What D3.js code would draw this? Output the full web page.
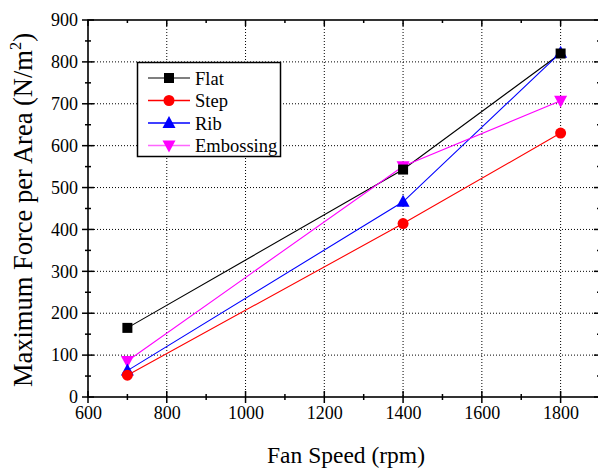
<!DOCTYPE html>
<html><head><meta charset="utf-8">
<script src="https://cdn.jsdelivr.net/npm/d3@7"></script>
<style>body{margin:0;background:#fff}svg{display:block}</style>
</head><body><svg id="c" width="598" height="474" font-family="Liberation Serif, Times New Roman, Times, serif"></svg>
<script>
const speeds = [700, 1400, 1800];
const seriesNames = ["Flat", "Step", "Rib", "Embossing"];
const flat = [165, 543, 820];
const step = [52, 414, 630];
const rib = [63, 466, 822];
const embossing = [86, 551, 707];
const xTicks = [600, 800, 1000, 1200, 1400, 1600, 1800];
const yTicks = [0, 100, 200, 300, 400, 500, 600, 700, 800, 900];

const FONT = "Liberation Serif, Times New Roman, Times, serif";
const colors = {Flat:"#000000", Step:"#ff0000", Rib:"#0000ff", Embossing:"#ff00ff"};
const symbols = {Flat:"square", Step:"circle", Rib:"up", Embossing:"down"};
const values = {Flat:flat, Step:step, Rib:rib, Embossing:embossing};

const svg = d3.select("#c");
const L=88, R=600, T=20, B=397;
const x = d3.scaleLinear().domain([600,1900]).range([L,R]);
const y = d3.scaleLinear().domain([0,900]).range([B,T]);

// grid
const g = svg.append("g");
xTicks.filter(v=>v>600).forEach(v=>{
  g.append("line").attr("x1",x(v)).attr("x2",x(v)).attr("y1",T).attr("y2",B)
   .attr("stroke","#000").attr("stroke-width",1).attr("stroke-dasharray","1,2");
});
yTicks.filter(v=>v>0&&v<900).forEach(v=>{
  g.append("line").attr("x1",L).attr("x2",R).attr("y1",y(v)).attr("y2",y(v))
   .attr("stroke","#000").attr("stroke-width",1).attr("stroke-dasharray","1,2");
});

// axes
const xMinor = d3.range(600,1901,100);
const yMinor = d3.range(0,901,50);
const ax = svg.append("g");
ax.append("g").attr("transform",`translate(0,${B})`)
  .call(d3.axisBottom(x).tickValues(xTicks).tickSize(0).tickPadding(8).tickFormat(d3.format("d")))
  .call(s=>{s.attr("font-family",FONT); s.select(".domain").remove(); s.selectAll("text").attr("font-size",18).attr("dy","0.78em").attr("fill","#000");});
ax.append("g").attr("transform",`translate(${L},0)`)
  .call(d3.axisLeft(y).tickValues(yTicks).tickSize(0).tickPadding(10))
  .call(s=>{s.attr("font-family",FONT); s.select(".domain").remove(); s.selectAll("text").attr("font-size",18).attr("fill","#000");});
xMinor.forEach(v=>{
  const major = v%200===0;
  ax.append("line").attr("x1",x(v)).attr("x2",x(v)).attr("y1",B-(major?6:3)).attr("y2",B+(major?6:3)).attr("stroke","#000").attr("stroke-width",1.5);
  ax.append("line").attr("x1",x(v)).attr("x2",x(v)).attr("y1",T).attr("y2",T+(major?6:3)).attr("stroke","#000").attr("stroke-width",1.5);
});
yMinor.forEach(v=>{
  const major = v%100===0;
  ax.append("line").attr("x1",L-(major?6:3)).attr("x2",L+(major?6:3)).attr("y1",y(v)).attr("y2",y(v)).attr("stroke","#000").attr("stroke-width",1.5);
  ax.append("line").attr("x1",R-(major?6:3)).attr("x2",R).attr("y1",y(v)).attr("y2",y(v)).attr("stroke","#000").attr("stroke-width",1.5);
});
ax.append("rect").attr("x",L).attr("y",T).attr("width",R-L).attr("height",B-T)
  .attr("fill","none").attr("stroke","#000").attr("stroke-width",1.6);

// titles
svg.append("text").attr("x",346).attr("y",463).attr("text-anchor","middle").attr("font-size",23.5).attr("font-family",FONT).attr("fill","#000").text("Fan Speed (rpm)");
const yt = svg.append("text").attr("transform",`translate(32,210) rotate(-90)`).attr("text-anchor","middle").attr("font-size",26.5).attr("font-family",FONT).attr("fill","#000");
yt.append("tspan").text("Maximum Force per Area (N/m");
yt.append("tspan").attr("font-size",16.5).attr("dy",-11).text("2");
yt.append("tspan").attr("dy",11).text(")");

function drawSymbol(sel, type, cx, cy, color){
  if(type==="square") sel.append("rect").attr("x",cx-5).attr("y",cy-5).attr("width",10).attr("height",10).attr("fill",color);
  else if(type==="circle") sel.append("circle").attr("cx",cx).attr("cy",cy).attr("r",5.5).attr("fill",color);
  else if(type==="up") sel.append("path").attr("d",`M${cx},${cy-7}L${cx+6.5},${cy+5}L${cx-6.5},${cy+5}Z`).attr("fill",color);
  else sel.append("path").attr("d",`M${cx},${cy+7}L${cx+6.5},${cy-5}L${cx-6.5},${cy-5}Z`).attr("fill",color);
}

const line = d3.line().x((d,i)=>x(speeds[i])).y(d=>y(d));
const plot = svg.append("g");
seriesNames.forEach(n=>{
  plot.append("path").datum(values[n]).attr("d",line).attr("fill","none").attr("stroke",colors[n]).attr("stroke-width",1.1);
});
["Embossing","Rib","Step","Flat"].forEach(n=>{
  values[n].forEach((v,i)=>drawSymbol(plot,symbols[n],x(speeds[i]),y(v),colors[n]));
});

// legend
const lg = svg.append("g");
lg.append("rect").attr("x",137.5).attr("y",62.5).attr("width",143).attr("height",94).attr("fill","#fff").attr("stroke","#000").attr("stroke-width",1.5);
const legendColors = {Flat:"#555555", Step:"#ff0000", Rib:"#0000ff", Embossing:"#ff66ff"};
seriesNames.forEach((n,i)=>{
  const cy = 78 + i*22.5;
  lg.append("line").attr("x1",148).attr("x2",190).attr("y1",cy).attr("y2",cy).attr("stroke",legendColors[n]).attr("stroke-width",1.5);
  drawSymbol(lg,symbols[n],169,cy,colors[n]);
  lg.append("text").attr("x",195).attr("y",cy+6.5).attr("font-size",18.5).attr("font-family",FONT).attr("fill","#000").text(n);
});
</script></body></html>
